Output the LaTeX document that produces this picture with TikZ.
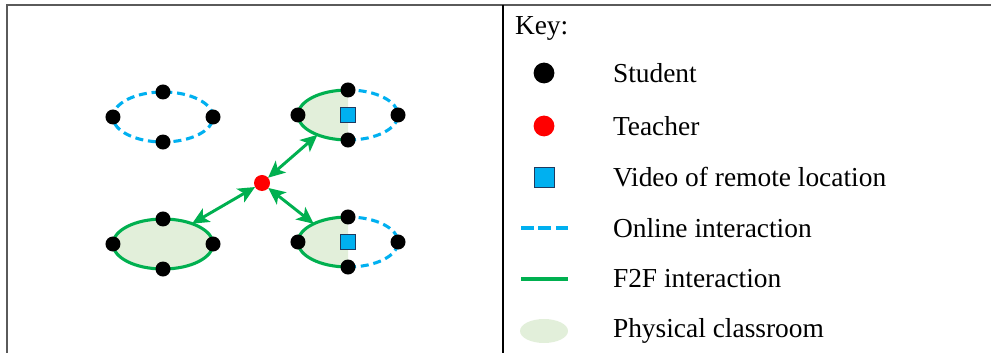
\documentclass[tikz,border=0pt]{standalone}
\usepackage{fontspec}
\setmainfont{Liberation Serif}
\usetikzlibrary{shapes.geometric,arrows.meta}
\definecolor{onlineblue}{HTML}{00B0F0}
\definecolor{ftfgreen}{HTML}{00B050}
\definecolor{roomfill}{HTML}{E2EFDA}
\definecolor{framegray}{HTML}{5A5A5A}
\definecolor{videoedge}{HTML}{1F3A5F}
\begin{document}
\begin{tikzpicture}[x=0.025cm,y=-0.025cm,inner sep=0pt,outer sep=0pt,
student/.style={draw=none,circle,fill=black,minimum size=3.75mm},
teacher/.style={draw=none,circle,fill=red,minimum size=4mm},
video/.style={draw=videoedge,line width=0.5pt,rectangle,fill=onlineblue,minimum size=3.8mm},
classroom/.style={ellipse,minimum width=25mm,minimum height=12.5mm},
online/.style={draw=onlineblue,line width=2.2pt,dash pattern=on 2mm off 1.2mm},
ftf/.style={draw=ftfgreen,line width=2.2pt},
link/.style={draw=ftfgreen,line width=2.1pt,{Stealth[length=12pt,width=11pt,inset=3pt]}-{Stealth[length=12pt,width=11pt,inset=3pt]}},
keytext/.style={anchor=west,font=\fontsize{19.5}{23}\selectfont}]

\useasboundingbox (0,0) rectangle (991,353);

% table frame
\draw[framegray,line width=1.5pt] (7,353) -- (7,5) -- (991,5);
\draw[black,line width=1.4pt] (503,5) -- (503,353);

% online only group
\draw (163,117) node[classroom,online] (C1) {};
% mixed groups
\draw (348,115) node[classroom] (C2) {};
\draw (348,242) node[classroom] (C4) {};
\foreach \c in {C2,C4}{
  \fill[roomfill] (\c.north) arc[start angle=90,end angle=270,x radius=12.5mm,y radius=6.25mm] -- cycle;
  \draw[ftf] (\c.north) arc[start angle=90,end angle=270,x radius=12.5mm,y radius=6.25mm];
  \draw[online] (\c.south) arc[start angle=270,end angle=450,x radius=12.5mm,y radius=6.25mm];
  \draw (\c.center) node[video] {};
}
% face to face group
\draw (163,244) node[classroom,ftf,fill=roomfill] (C3) {};

% students
\foreach \c in {C1,C2,C3,C4}{
  \foreach \a in {north,south,east,west}
    \draw (\c.\a) node[student] (\c-\a) {};
}

% teacher
\draw (262,183) node[teacher] (T) {};
\draw[link] (T) -- (C2.213);
\draw[link] (T) -- (C3.35);
\draw[link] (T) -- (C4.152);

% key
\draw (515,28) node[keytext] (keyhead) {Key:};
\draw (544,73) node[student,minimum size=5.2mm] (kstudent) {};
\draw (613,73) node[keytext] {Student};
\draw (544,126) node[teacher,minimum size=5.2mm] (kteacher) {};
\draw (613,126) node[keytext] {Teacher};
\draw (544,177) node[video,minimum size=5mm] (kvideo) {};
\draw (613,177) node[keytext] {Video of remote location};
\coordinate (kon1) at (521,228);
\coordinate (kon2) at (568,228);
\draw[online,line width=2.8pt,dash pattern=on 3.25mm off 1.1mm] (kon1) -- (kon2);
\draw (613,228) node[keytext] {Online interaction};
\coordinate (kftf1) at (521,279);
\coordinate (kftf2) at (568,279);
\draw[ftf,line width=2.8pt] (kftf1) -- (kftf2);
\draw (613,279) node[keytext] {F2F interaction};
\draw (544,331) node[ellipse,fill=roomfill,minimum width=12mm,minimum height=6mm] (kroom) {};
\draw (613,331) node[keytext] {Physical classroom};
\end{tikzpicture}
\end{document}
